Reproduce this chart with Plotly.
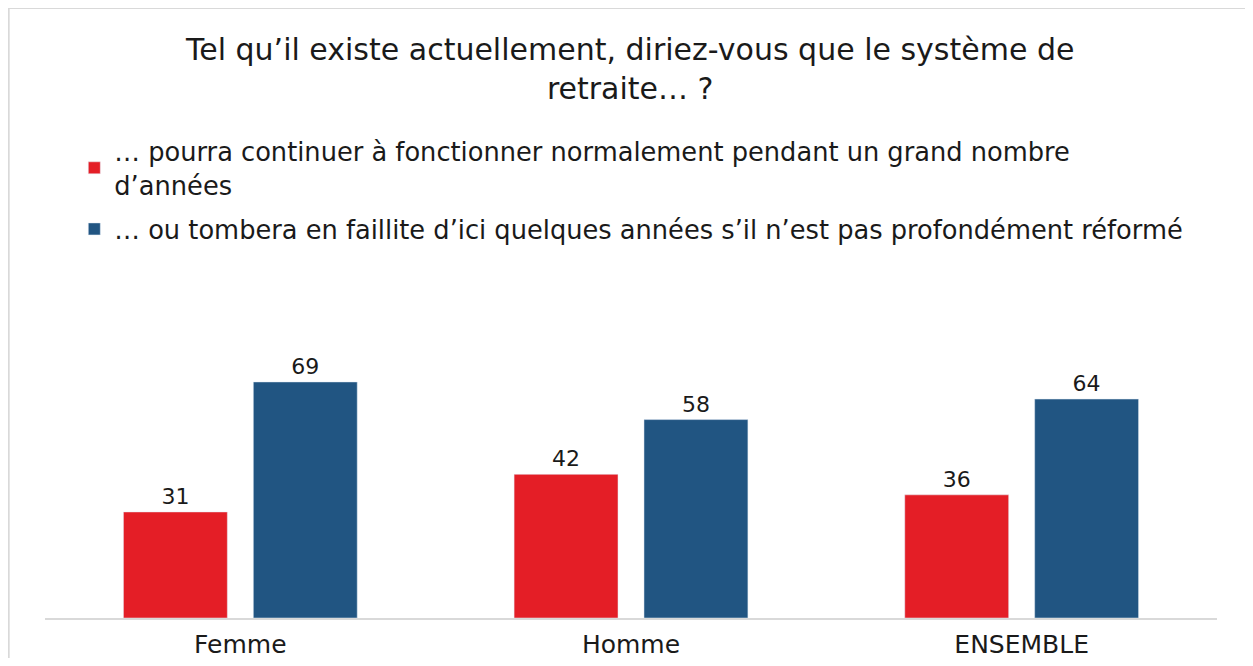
import plotly.graph_objects as go

categories = ["Femme", "Homme", "ENSEMBLE"]
serie_continuer = [31, 42, 36]
serie_faillite = [69, 58, 64]
nom_continuer = "… pourra continuer à fonctionner normalement pendant un grand nombre<br>d’années"
nom_faillite = "… ou tombera en faillite d’ici quelques années s’il n’est pas profondément réformé"

FONT = "DejaVu Sans, sans-serif"
TEXT = "#1a1a1a"

fig = go.Figure()
fig.add_trace(go.Bar(
    x=categories, y=serie_continuer, name=nom_continuer, legendgroup="a",
    marker_color="#E41E26", text=serie_continuer, textposition="outside",
    textfont=dict(size=22, color=TEXT), cliponaxis=False,
))
fig.add_trace(go.Bar(
    x=categories, y=serie_faillite, name=nom_faillite, legendgroup="b",
    marker_color="#215582", text=serie_faillite, textposition="outside",
    textfont=dict(size=22, color=TEXT), cliponaxis=False,
))

fig.update_layout(
    width=1237, height=650,
    paper_bgcolor="white", plot_bgcolor="white",
    font=dict(family=FONT, color=TEXT),
    title=dict(
        text="Tel qu’il existe actuellement, diriez-vous que le système de<br>retraite… ?",
        x=0.503, xanchor="center", y=0.92, yanchor="top",
        font=dict(size=30, color=TEXT),
    ),
    margin=dict(l=37, r=28, t=272, b=40),
    barmode="group", bargap=0.335, bargroupgap=0.2,
    showlegend=True,
    legend=dict(
        x=0.025, xanchor="left", y=1.45, yanchor="top",
        font=dict(size=25.7, color=TEXT), bgcolor="rgba(0,0,0,0)",
        tracegroupgap=8, itemwidth=30, traceorder="grouped",
    ),
    shapes=[dict(
        type="rect", xref="paper", yref="paper",
        x0=-0.031, x1=1.2, y0=-0.5, y1=1.805,
        line=dict(color="#D9D9D9", width=2), fillcolor="rgba(0,0,0,0)", layer="below",
    )],
)
fig.update_xaxes(
    showline=True, linecolor="#D9D9D9", linewidth=2, automargin=False,
    tickfont=dict(size=25, color=TEXT), ticks="", ticklabelstandoff=3,
)
fig.update_yaxes(range=[0, 98.8], visible=False, showgrid=False)

fig.write_html("out.html")
